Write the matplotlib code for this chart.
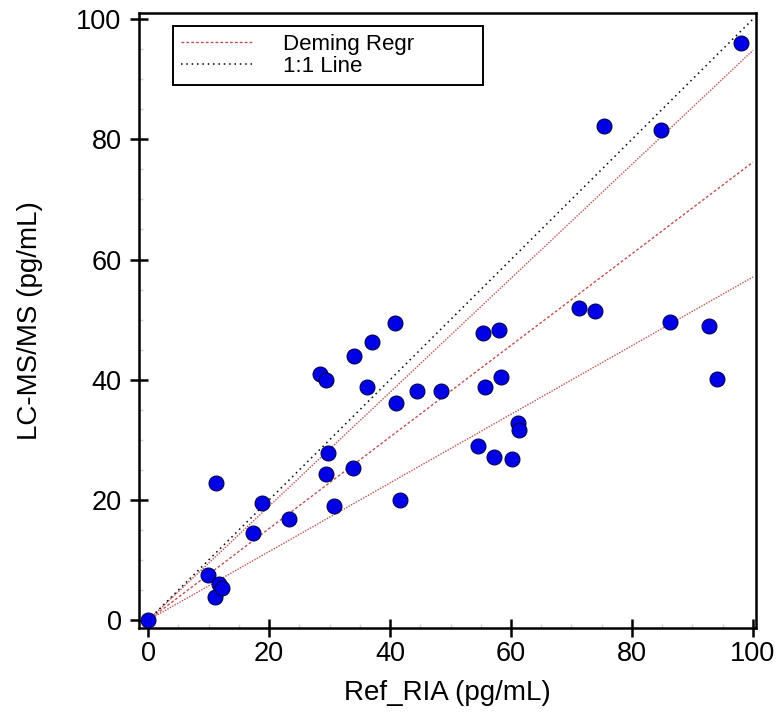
import numpy as np
import matplotlib.pyplot as plt
from matplotlib.ticker import MultipleLocator

plt.rcParams['font.family'] = ['Liberation Sans', 'DejaVu Sans']

# reference RIA vs LC-MS/MS results (pg/mL)
ria = [0.0, 9.9, 11.1, 11.7, 12.2, 11.2, 17.4, 18.8, 23.3, 30.8,
       29.7, 29.4, 33.9, 41.7, 28.4, 29.4, 36.2, 34.0, 37.0, 40.8,
       41.0, 44.4, 48.4, 55.4, 58.0, 55.7, 58.3, 61.2, 61.3, 54.5,
       57.2, 60.2, 98.0, 75.4, 84.8, 71.3, 73.9, 86.3, 92.7, 94.0]
lcms = [0.0, 7.5, 3.8, 6.0, 5.3, 22.8, 14.5, 19.5, 16.8, 19.0,
        27.8, 24.3, 25.3, 20.0, 40.9, 39.9, 38.8, 43.9, 46.3, 49.4,
        36.1, 38.1, 38.1, 47.7, 48.3, 38.8, 40.4, 32.8, 31.6, 29.0,
        27.1, 26.8, 96.0, 82.2, 81.5, 51.9, 51.4, 49.6, 48.9, 40.1]

# Deming fit and its confidence limits (slopes, intercept ~0)
deming_slope = 0.762
ci_slopes = [0.948, 0.571]

fig = plt.figure(figsize=(7.76, 7.18), dpi=100)
ax = fig.add_axes([0.1791, 0.1253, 0.7951, 0.8565])

xx = np.array([0, 100])
red = '#c05050'
ax.plot(xx, deming_slope * xx, color=red, lw=1.0, ls=(0, (2, 1.5)), label='Deming Regr')
for s in ci_slopes:
    ax.plot(xx, s * xx, color=red, lw=1.0, ls=(0, (1, 1)))
ax.plot(xx, xx, color='black', lw=1.1, ls=(0, (1, 2.5)), label='1:1 Line')

ax.scatter(ria, lcms, s=115, color='#0000e6', edgecolors='#000050',
           linewidths=0.8, zorder=3)

ax.set_xlim(-1.5, 100.5)
ax.set_ylim(-1.3, 101)
ax.xaxis.set_major_locator(MultipleLocator(20))
ax.yaxis.set_major_locator(MultipleLocator(20))
ax.xaxis.set_minor_locator(MultipleLocator(5))
ax.yaxis.set_minor_locator(MultipleLocator(5))
ax.tick_params(which='major', direction='inout', length=13, width=1.8,
               labelsize=19.5, pad=3)
ax.tick_params(axis='y', which='major', pad=6)
ax.tick_params(which='minor', direction='in', length=3, width=1,
               color='#d0d0d0')
for sp in ax.spines.values():
    sp.set_linewidth(1.8)

ax.set_xlabel('Ref_RIA (pg/mL)', fontsize=20, labelpad=9)
ax.set_ylabel('LC-MS/MS (pg/mL)', fontsize=20, labelpad=24)

leg = ax.legend(loc='upper left', bbox_to_anchor=(0.055, 0.979, 0.502, 0.0),
                mode='expand', borderaxespad=0, fontsize=16, frameon=True,
                fancybox=False, edgecolor='black', framealpha=1,
                handlelength=3.3, handletextpad=1.3, labelspacing=0.05,
                borderpad=0.35)
leg.get_frame().set_linewidth(1.4)

fig.savefig('out.png', dpi=100)
